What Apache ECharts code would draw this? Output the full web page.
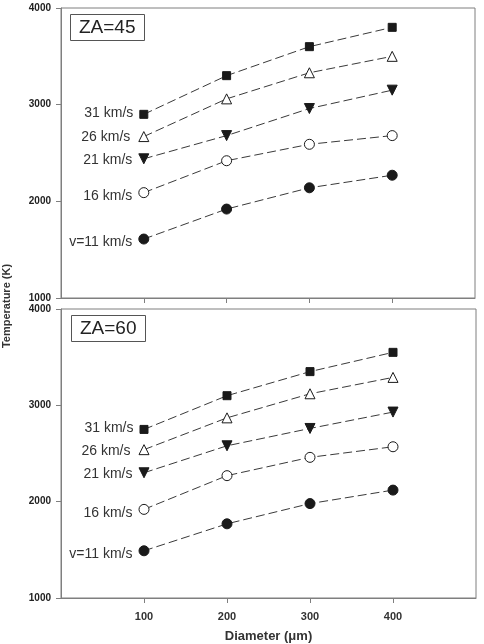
<!DOCTYPE html>
<html>
<head>
<meta charset="utf-8">
<script src="https://cdn.jsdelivr.net/npm/echarts@6/dist/echarts.min.js"></script>
<style>
  html, body { margin: 0; padding: 0; background: #fff; }
  #main { width: 484px; height: 644px; }
</style>
</head>
<body>
<div id="main"></div>
<script>
// diameters (um) on the x axis
const diameters = [100, 200, 300, 400];
const speedNames = ["v=11 km/s", "16 km/s", "21 km/s", "26 km/s", "31 km/s"];
const xTicks = [100, 200, 300, 400];

// ZA=45 panel
const za45V11 = [1610, 1920, 2140, 2270];
const za45V16 = [2090, 2420, 2590, 2680];
const za45V21 = [2440, 2680, 2960, 3150];
const za45V26 = [2670, 3060, 3330, 3500];
const za45V31 = [2900, 3300, 3600, 3800];

// ZA=60 panel
const za60V11 = [1490, 1770, 1980, 2120];
const za60V16 = [1920, 2270, 2460, 2570];
const za60V21 = [2300, 2580, 2760, 2930];
const za60V26 = [2540, 2870, 3120, 3290];
const za60V31 = [2750, 3100, 3350, 3550];

const ink = "#1a1a1a";
const axisGray = "#7f7f7f";
const font = "Liberation Sans, Arial, sans-serif";

// marker style per speed
const markers = [
  { symbol: "circle", size: 10, fill: ink, rotate: 0 },
  { symbol: "circle", size: 10, fill: "#fff", rotate: 0 },
  { symbol: "triangle", size: 10, fill: ink, rotate: 180 },
  { symbol: "triangle", size: 10, fill: "#fff", rotate: 0 },
  { symbol: "rect", size: 8, fill: ink, rotate: 0 },
];
const labelShift = [[0, 3], [0, 4], [0, 1], [-2, 1], [0, -1]];

const makeSeries = (values, k, gi) => {
  const m = markers[k];
  return {
    type: "line",
    xAxisIndex: gi,
    yAxisIndex: gi,
    data: values.map((v, i) => {
      const item = { value: [diameters[i], v] };
      if (i === 0) {
        item.label = {
          show: true,
          position: "left",
          distance: 6,
          offset: labelShift[k],
          formatter: speedNames[k],
          fontFamily: font,
          fontSize: 14,
          color: "#333",
        };
      }
      return item;
    }),
    symbol: m.symbol,
    symbolSize: m.size,
    symbolRotate: m.rotate,
    showAllSymbol: true,
    itemStyle: { color: m.fill, borderColor: ink, borderWidth: 1 },
    lineStyle: { color: "#3a3a3a", width: 1, type: [9, 4] },
    z: 3,
  };
};

const xAxisFor = (gi, showLabels) => ({
  type: "value",
  gridIndex: gi,
  min: 0,
  max: 500,
  interval: 100,
  splitLine: { show: false },
  axisLine: { lineStyle: { color: axisGray, width: 1 } },
  axisTick: { show: true, inside: false, length: 5, customValues: xTicks, lineStyle: { color: axisGray } },
  axisLabel: {
    show: showLabels,
    customValues: xTicks,
    margin: 13,
    fontFamily: font,
    fontWeight: "bold",
    fontSize: 11,
    color: "#333",
  },
  name: showLabels ? "Diameter (\u03bcm)" : "",
  nameLocation: "middle",
  nameGap: 32,
  nameTextStyle: {
    fontFamily: font,
    fontWeight: "bold",
    fontSize: 13,
    color: "#333",
  },
});

const yAxisFor = (gi) => ({
  type: "value",
  gridIndex: gi,
  min: 1000,
  max: 4000,
  interval: 1000,
  splitLine: { show: false },
  axisLine: { show: true, lineStyle: { color: axisGray, width: 1 } },
  axisTick: { show: true, inside: false, length: 5, lineStyle: { color: axisGray } },
  axisLabel: {
    margin: 10,
    formatter: (v) => String(v),
    fontFamily: font,
    fontWeight: "bold",
    fontSize: 10,
    color: "#222",
  },
});

const panelTitle = (text, left, top) => ({
  text: text,
  left: left,
  top: top,
  padding: [4, 9, 4, 9],
  borderColor: "#555",
  borderWidth: 1,
  textStyle: {
    fontFamily: font,
    fontWeight: "normal",
    fontSize: 19,
    color: "#222",
  },
});

const chart = echarts.init(document.getElementById("main"), null, { renderer: "canvas" });
chart.setOption({
  animation: false,
  backgroundColor: "#fff",
  title: [panelTitle("ZA=45", 70, 14), panelTitle("ZA=60", 71, 315)],
  grid: [
    { left: 61, top: 8, width: 414, height: 290, show: true, borderColor: axisGray, borderWidth: 1 },
    { left: 61, top: 309, width: 415, height: 290, show: true, borderColor: axisGray, borderWidth: 1 },
  ],
  xAxis: [xAxisFor(0, false), xAxisFor(1, true)],
  yAxis: [yAxisFor(0), yAxisFor(1)],
  graphic: [
    {
      type: "text",
      x: 7,
      y: 306,
      rotation: Math.PI / 2,
      style: {
        text: "Temperature (K)",
        fontFamily: font,
        fontWeight: "bold",
        fontSize: 11,
        fill: "#333",
        align: "center",
        verticalAlign: "middle",
      },
    },
  ],
  series: [
    makeSeries(za45V11, 0, 0),
    makeSeries(za45V16, 1, 0),
    makeSeries(za45V21, 2, 0),
    makeSeries(za45V26, 3, 0),
    makeSeries(za45V31, 4, 0),
    makeSeries(za60V11, 0, 1),
    makeSeries(za60V16, 1, 1),
    makeSeries(za60V21, 2, 1),
    makeSeries(za60V26, 3, 1),
    makeSeries(za60V31, 4, 1),
  ],
});
</script>
</body>
</html>
